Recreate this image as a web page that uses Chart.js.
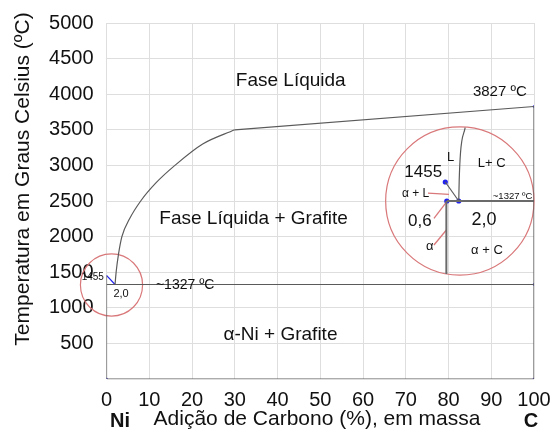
<!DOCTYPE html>
<html>
<head>
<meta charset="utf-8">
<script src="https://cdn.jsdelivr.net/npm/chart.js@4/dist/chart.umd.min.js"></script>
<style>
  html, body { margin: 0; padding: 0; background: #fff; }
  #wrap { width: 553px; height: 431px; position: relative; }
</style>
</head>
<body>
<div id="wrap"><canvas id="c" width="553" height="431"></canvas></div>
<script>
// Ni–C phase diagram: composition (% C, by mass) vs temperature (ºC)
const xTicks = [0, 10, 20, 30, 40, 50, 60, 70, 80, 90, 100];
const yTicks = [0, 500, 1000, 1500, 2000, 2500, 3000, 3500, 4000, 4500, 5000];

const T_NI_MELT = 1455;      // pure Ni melting point
const T_EUTECTIC = 1327;     // eutectic temperature
const X_EUTECTIC = 2.0;      // eutectic composition
const T_C_END = 3827;        // carbon end of the liquidus

// liquidus (L / L + graphite boundary)
const liquidusX = [2.0, 2.25, 2.8, 3.6, 5.4, 8, 11.5, 16, 22.5, 30];
const liquidusT = [1327, 1500, 1750, 2000, 2250, 2500, 2750, 3000, 3300, 3500];
const upperX = [30, 100];
const upperT = [3500, T_C_END];

// magnified detail of the Ni-rich corner (drawn around x≈80, T≈2500)
const zoomSolidusX = [79.25, 82.4];
const zoomSolidusT = [2767, 2500];
const zoomLiquidusX = [82.4, 82.5, 82.8, 83.9];
const zoomLiquidusT = [2500, 2780, 3170, 3530];
const zoomAlphaX = [79.5, 79.5];
const zoomAlphaT = [2500, 1475];
const zoomEutecticX = [79.6, 100];
const zoomEutecticT = [2500, 2500];
const zoomDotsX = [79.25, 79.6, 82.4];
const zoomDotsT = [2767, 2500, 2500];

const pts = (xs, ys) => xs.map((x, i) => ({ x, y: ys[i] }));
const FONT = "'Liberation Sans', Arial, sans-serif";
const LINE = '#5a5a5a';
const BLUE = '#2222ee';
const RED = '#d9787a';

function line(data, opts = {}) {
  return Object.assign({
    type: 'scatter', data, showLine: true, borderColor: LINE, borderWidth: 1.2,
    pointRadius: 0, fill: false, tension: 0
  }, opts);
}

const datasets = [
  // phase lines along the frame
  line(pts([0, 100], [0, 0])),
  line(pts([0, 0], [0, T_NI_MELT])),
  line(pts([100, 100], [0, T_C_END])),
  line(pts([0, 100], [T_EUTECTIC, T_EUTECTIC])),
  line(pts(liquidusX, liquidusT), { cubicInterpolationMode: 'monotone' }),
  line(pts(upperX, upperT)),
  line(pts([0, X_EUTECTIC], [T_NI_MELT, T_EUTECTIC]), { borderColor: BLUE }),
  { type: 'scatter', data: pts([0, 100, 100, 100], [0, 0, T_EUTECTIC, T_C_END]),
    pointRadius: 1.3, pointBackgroundColor: BLUE, pointBorderWidth: 0, showLine: false },
  // magnified inset
  line(pts(zoomAlphaX, zoomAlphaT), { borderWidth: 2, borderColor: '#6a6a6a' }),
  line(pts(zoomEutecticX, zoomEutecticT), { borderWidth: 2, borderColor: '#6a6a6a' }),
  line(pts(zoomSolidusX, zoomSolidusT)),
  line(pts(zoomLiquidusX, zoomLiquidusT), { cubicInterpolationMode: 'monotone' }),
  line(pts([75.2, 80.1], [2612, 2594]), { borderColor: RED, borderWidth: 1.3 }),
  line(pts([76.6, 79.6], [2257, 2490]), { borderColor: RED, borderWidth: 1.3 }),
  line(pts([76.6, 79.5], [1882, 2093]), { borderColor: RED, borderWidth: 1.3 }),
  { type: 'scatter', data: pts(zoomDotsX, zoomDotsT), pointRadius: 2.6,
    pointBackgroundColor: BLUE, pointBorderWidth: 0, showLine: false }
];

// text labels placed in data coordinates: [text, x, T, size, align]
const labels = [
  ['Fase Líquida', 43.1, 4183, 19, 'center'],
  ['Fase Líquida + Grafite', 34.4, 2247, 19, 'center'],
  ['α-Ni + Grafite', 40.7, 615, 19, 'center'],
  ['~1327 ºC', 18.4, 1320, 14, 'center'],
  ['3827 ºC', 92, 4030, 15, 'center'],
  ['1455', -0.6, 1436, 10, 'right'],
  ['2,0', 3.4, 1200, 11, 'center'],
  ['1455', 74.1, 2897, 17, 'center'],
  ['α + L', 72.3, 2598, 12, 'center'],
  ['0,6', 73.3, 2209, 17, 'center'],
  ['α', 75.6, 1858, 13, 'center'],
  ['L', 80.5, 3110, 13, 'center'],
  ['L+ C', 90.1, 3030, 13, 'center'],
  ['2,0', 88.3, 2233, 18, 'center'],
  ['α + C', 89, 1812, 13, 'center'],
  ['~1327 ºC', 95, 2570, 9.5, 'center']
];

// circles marking the detail and its magnification: [x, T, radius in % units]
const circles = [
  [1.17, 1320, 7.27],
  [82.65, 2500, 17.35]
];

const decor = {
  id: 'decor',
  beforeDatasetsDraw(chart) {
    const { ctx, scales: { x, y } } = chart;
    ctx.save();
    ctx.strokeStyle = RED;
    ctx.lineWidth = 1.2;
    circles.forEach(([cx, cy, r]) => {
      const px = x.getPixelForValue(cx), py = y.getPixelForValue(cy);
      const pr = x.getPixelForValue(cx + r) - px;
      ctx.beginPath();
      ctx.arc(px, py, pr, 0, Math.PI * 2);
      ctx.stroke();
    });
    ctx.restore();
  },
  afterDatasetsDraw(chart) {
    const { ctx, scales: { x, y } } = chart;
    ctx.save();
    ctx.fillStyle = '#111';
    ctx.textBaseline = 'middle';
    labels.forEach(([t, lx, ly, size, align]) => {
      ctx.font = size + 'px ' + FONT;
      ctx.textAlign = align;
      ctx.fillText(t, x.getPixelForValue(lx), y.getPixelForValue(ly));
    });
    // axis titles and end-member names
    ctx.font = '21px ' + FONT;
    ctx.textAlign = 'center';
    ctx.fillText('Adição de Carbono (%), em massa', 317, 419);
    ctx.font = 'bold 20px ' + FONT;
    ctx.fillText('Ni', 120, 421);
    ctx.fillText('C', 531, 421);
    ctx.translate(23, 179);
    ctx.rotate(-Math.PI / 2);
    ctx.font = '21px ' + FONT;
    ctx.fillText('Temperatura em Graus Celsius (ºC)', 0, 0);
    ctx.restore();
  }
};

new Chart(document.getElementById('c'), {
  type: 'scatter',
  data: { datasets },
  options: {
    responsive: false,
    animation: false,
    events: [],
    layout: { padding: { top: 23, right: 19, left: 0, bottom: 0 } },
    plugins: { legend: { display: false }, tooltip: { enabled: false }, title: { display: false } },
    scales: {
      x: {
        type: 'linear', min: 0, max: 100,
        afterBuildTicks: s => { s.ticks = xTicks.map(v => ({ value: v })); },
        afterFit: s => { s.height = 52; s.paddingLeft = 0; s.paddingRight = 0; },
        grid: { color: '#dedede', drawTicks: false, lineWidth: 1 },
        border: { display: false },
        ticks: { padding: 9, color: '#111', font: { family: FONT, size: 20 }, maxRotation: 0 }
      },
      y: {
        type: 'linear', min: 0, max: 5000,
        afterBuildTicks: s => { s.ticks = yTicks.map(v => ({ value: v })); },
        afterFit: s => { s.width = 106.5; s.paddingTop = 0; s.paddingBottom = 0; },
        grid: { color: '#dedede', drawTicks: false, lineWidth: 1 },
        border: { display: false },
        ticks: { padding: 13, color: '#111', font: { family: FONT, size: 20 },
                 callback: v => (v === 0 ? '' : String(v)) }
      }
    }
  },
  plugins: [decor]
});
</script>
</body>
</html>
